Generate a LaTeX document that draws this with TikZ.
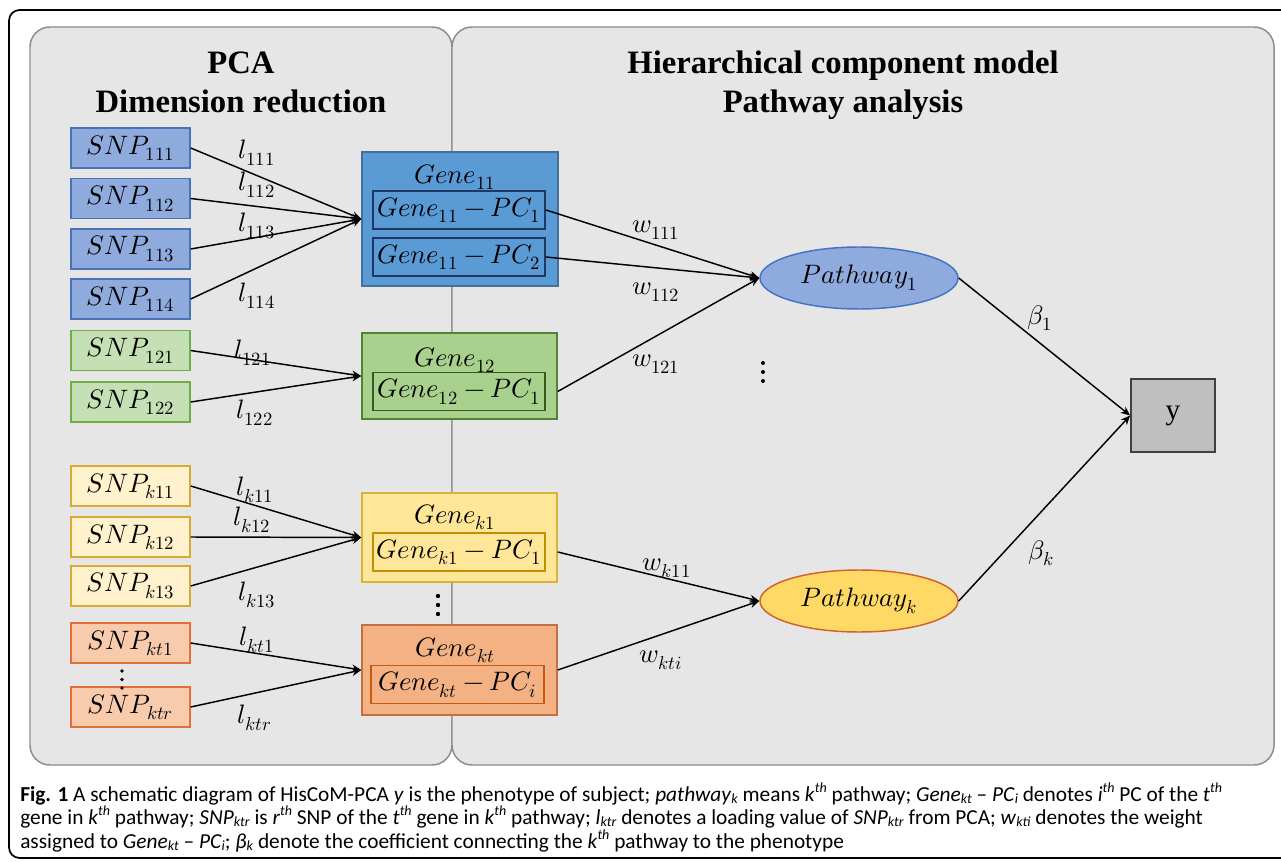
\documentclass[tikz,border=0pt]{standalone}
\usepackage{unicode-math}
\newfontfamily\capfont{Carlito}
\newfontfamily\headfont{Liberation Serif}
\usetikzlibrary{shapes.geometric,arrows.meta}
\definecolor{panelfill}{HTML}{E6E6E6}
\definecolor{paneldraw}{HTML}{8C8C8C}
\definecolor{snpB}{HTML}{8FAADC}\definecolor{snpBd}{HTML}{4A72B8}
\definecolor{snpG}{HTML}{C5E0B4}\definecolor{snpGd}{HTML}{70AD47}
\definecolor{snpY}{HTML}{FFF2CC}\definecolor{snpYd}{HTML}{D9A934}
\definecolor{snpO}{HTML}{F8CBAD}\definecolor{snpOd}{HTML}{E0703A}
\definecolor{geneB}{HTML}{5B9BD5}\definecolor{geneBd}{HTML}{41719C}\definecolor{pcBd}{HTML}{1F3864}
\definecolor{geneG}{HTML}{A9D18E}\definecolor{geneGd}{HTML}{548235}\definecolor{pcGd}{HTML}{385723}
\definecolor{geneY}{HTML}{FFE699}\definecolor{geneYd}{HTML}{D6B43A}\definecolor{pcYd}{HTML}{BF9000}
\definecolor{geneO}{HTML}{F4B183}\definecolor{geneOd}{HTML}{C5703F}\definecolor{pcOd}{HTML}{C55A11}
\definecolor{pathB}{HTML}{8FAADC}\definecolor{pathBd}{HTML}{4472C4}
\definecolor{pathY}{HTML}{FFD966}\definecolor{pathYd}{HTML}{D0622A}
\definecolor{ybox}{HTML}{BFBFBF}\definecolor{yboxd}{HTML}{404040}
\newcommand\capsub[2]{\textit{#1}\raisebox{-0.1em}{\fontsize{10.5}{11}\selectfont\textit{#2}}}
\newcommand\capsup[2]{\textit{#1}\raisebox{0.42em}{\fontsize{10.5}{11}\selectfont\textit{#2}}}
\begin{document}
\begin{tikzpicture}[x=0.75pt,y=-0.75pt,
  mathfont/.style={font=\fontsize{20}{24}\selectfont},
  panelbox/.style={fill=panelfill,draw=paneldraw,line width=1.1pt,rounded corners=15pt},
  snpbox/.style={draw,line width=1.1pt,minimum width=89.25pt,minimum height=30pt,inner sep=0pt,mathfont},
  genebox/.style={draw,line width=1.1pt,inner sep=0pt},
  pcbox/.style={draw,line width=1.4pt,minimum width=129pt,minimum height=28.5pt,inner sep=0pt,mathfont},
  genetitle/.style={inner sep=0pt,mathfont},
  edgelab/.style={inner sep=0pt,mathfont},
  headtext/.style={inner sep=0pt,font=\headfont\bfseries\fontsize{24.5}{28}\selectfont},
  captext/.style={inner sep=0pt,align=left,font=\capfont\fontsize{16}{17.8}\selectfont},
  arr/.style={-{Stealth[length=7pt,width=6pt]},line width=1.1pt},
  dotfill/.style={fill=black,draw=none}]
\useasboundingbox (0,0) rectangle (1281,862);
\clip (0,0) rectangle (1281,862);
\fill[white] (0,0) rectangle (1281,862);
% outer frame
\draw[black,line width=1.3pt,rounded corners=8pt] (9,10) rectangle (1300,858);
% panels
\draw[panelbox] (30,27) rectangle (452,765);
\draw[panelbox] (452,27) rectangle (1274,765);
% headers
\node[headtext,anchor=base] (h1) at (241,74) {PCA};
\node[headtext,anchor=base] (h2) at (241,113) {Dimension reduction};
\node[headtext,anchor=base] (h3) at (843,74) {Hierarchical component model};
\node[headtext,anchor=base] (h4) at (843,113) {Pathway analysis};
% SNP boxes
\node[snpbox,fill=snpB,draw=snpBd] (s111) at (130.5,148) {$SNP_{111}$};
\node[snpbox,fill=snpB,draw=snpBd] (s112) at (130.5,198.5) {$SNP_{112}$};
\node[snpbox,fill=snpB,draw=snpBd] (s113) at (130.5,249) {$SNP_{113}$};
\node[snpbox,fill=snpB,draw=snpBd] (s114) at (130.5,299) {$SNP_{114}$};
\node[snpbox,fill=snpG,draw=snpGd] (s121) at (130.5,350.5) {$SNP_{121}$};
\node[snpbox,fill=snpG,draw=snpGd] (s122) at (130.5,402) {$SNP_{122}$};
\node[snpbox,fill=snpY,draw=snpYd] (sk11) at (130.5,486) {$SNP_{k11}$};
\node[snpbox,fill=snpY,draw=snpYd] (sk12) at (130.5,537) {$SNP_{k12}$};
\node[snpbox,fill=snpY,draw=snpYd] (sk13) at (130.5,586) {$SNP_{k13}$};
\node[snpbox,fill=snpO,draw=snpOd] (skt1) at (130.5,643) {$SNP_{kt1}$};
\node[snpbox,fill=snpO,draw=snpOd] (sktr) at (130.5,707) {$SNP_{ktr}$};
\fill[dotfill] (122,671) circle (1.8) (122,679.5) circle (1.8) (122,688) circle (1.8);
% gene boxes
\node[genebox,fill=geneB,draw=geneBd,minimum width=147pt,minimum height=100.5pt] (g11) at (460,219) {};
\node[genetitle] (t11) at (455,177) {$Gene_{11}$};
\node[pcbox,fill=geneB,draw=pcBd] (p111) at (459,210) {$Gene_{11}-PC_{1}$};
\node[pcbox,fill=geneB,draw=pcBd] (p112) at (459,257) {$Gene_{11}-PC_{2}$};
\node[genebox,fill=geneG,draw=geneGd,minimum width=146.25pt,minimum height=64.5pt] (g12) at (459.5,376) {};
\node[genetitle] (t12) at (455,360) {$Gene_{12}$};
\node[pcbox,fill=geneG,draw=pcGd] (p121) at (459,391.5) {$Gene_{12}-PC_{1}$};
\node[genebox,fill=geneY,draw=geneYd,minimum width=146.25pt,minimum height=66.75pt] (gk1) at (459.5,537.5) {};
\node[genetitle] (tk1) at (455,517) {$Gene_{k1}$};
\node[pcbox,fill=geneY,draw=pcYd] (pk11) at (459,552) {$Gene_{k1}-PC_{1}$};
\node[genebox,fill=geneO,draw=geneOd,minimum width=146.25pt,minimum height=67.5pt] (gkt) at (459.5,670) {};
\node[genetitle] (tkt) at (455,650) {$Gene_{kt}$};
\node[pcbox,fill=geneO,draw=pcOd,minimum width=129.75pt] (pkti) at (457.5,684.5) {$Gene_{kt}-PC_{i}$};
\fill[dotfill] (438,596) circle (2.2) (438,605) circle (2.2) (438,614) circle (2.2);
% pathways
\node[ellipse,draw=pathBd,fill=pathB,line width=1.1pt,minimum width=148.5pt,minimum height=46.5pt,inner sep=0pt,mathfont] (pw1) at (859,278) {$Pathway_{1}$};
\node[ellipse,draw=pathYd,fill=pathY,line width=1.1pt,minimum width=148.5pt,minimum height=46.5pt,inner sep=0pt,mathfont] (pwk) at (859,601) {$Pathway_{k}$};
\fill[dotfill] (763,363) circle (2) (763,372) circle (2) (763,381) circle (2);
% y box
\node[draw=yboxd,fill=ybox,line width=1.3pt,minimum width=63pt,minimum height=54.75pt,inner sep=0pt,font=\headfont\fontsize{22}{26}\selectfont] (yb) at (1173,415.5) {y};
% SNP -> gene arrows
\draw[arr] (s111.east) -- (g11.west);
\draw[arr] (s112.east) -- (g11.west);
\draw[arr] (s113.east) -- (g11.west);
\draw[arr] (s114.east) -- (g11.west);
\draw[arr] (s121.east) -- (g12.west);
\draw[arr] (s122.east) -- (g12.west);
\draw[arr] (sk11.east) -- (gk1.west);
\draw[arr] (sk12.east) -- (gk1.west);
\draw[arr] (sk13.east) -- (gk1.west);
\draw[arr] (skt1.east) -- (gkt.west);
\draw[arr] (sktr.east) -- (gkt.west);
% gene -> pathway arrows
\draw[arr] (p111.east) -- (pw1.west);
\draw[arr] (p112.east) -- (pw1.west);
\draw[arr] (g12.east |- p121.center) -- (pw1.west);
\draw[arr] (gk1.east |- pk11.center) -- (pwk.west);
\draw[arr] (gkt.east) -- (pwk.west);
% pathway -> y
\draw[arr] (pw1.east) -- (yb.west);
\draw[arr] (pwk.east) -- (yb.west);
% labels
\node[edgelab] (l111) at (257,153) {$l_{111}$};
\node[edgelab] (l112) at (257,185) {$l_{112}$};
\node[edgelab] (l113) at (257,226) {$l_{113}$};
\node[edgelab] (l114) at (257,296) {$l_{114}$};
\node[edgelab] (l121) at (253,353) {$l_{121}$};
\node[edgelab] (l122) at (255,413) {$l_{122}$};
\node[edgelab] (lk11) at (255,490) {$l_{k11}$};
\node[edgelab] (lk12) at (252,520) {$l_{k12}$};
\node[edgelab] (lk13) at (257,595) {$l_{k13}$};
\node[edgelab] (lkt1) at (257,640) {$l_{kt1}$};
\node[edgelab] (lktr) at (255,718) {$l_{ktr}$};
\node[edgelab] (w111) at (656,230) {$w_{111}$};
\node[edgelab] (w112) at (656,292) {$w_{112}$};
\node[edgelab] (w121) at (656,364) {$w_{121}$};
\node[edgelab] (wk11) at (667,568) {$w_{k11}$};
\node[edgelab] (wkti) at (661,660) {$w_{kti}$};
\node[edgelab] (b1) at (1040,318) {$\beta_{1}$};
\node[edgelab] (bk) at (1041,553) {$\beta_{k}$};
% caption
\node[captext,anchor=base west] (cap) at (20,848.5) {{\bfseries Fig. 1} A schematic diagram of HisCoM-PCA \textit{y} is the phenotype of subject; \capsub{pathway}{k} means \capsup{k}{th} pathway; \capsub{Gene}{kt} – \capsub{PC}{i} denotes \capsup{i}{th} PC of the \capsup{t}{th}\\
gene in \capsup{k}{th} pathway; \capsub{SNP}{ktr} is \capsup{r}{th} SNP of the \capsup{t}{th} gene in \capsup{k}{th} pathway; \capsub{l}{ktr} denotes a loading value of \capsub{SNP}{ktr} from PCA; \capsub{w}{kti} denotes the weight\\
assigned to \capsub{Gene}{kt} – \capsub{PC}{i}; \capsub{β}{k} denote the coefficient connecting the \capsup{k}{th} pathway to the phenotype};
\end{tikzpicture}
\end{document}
